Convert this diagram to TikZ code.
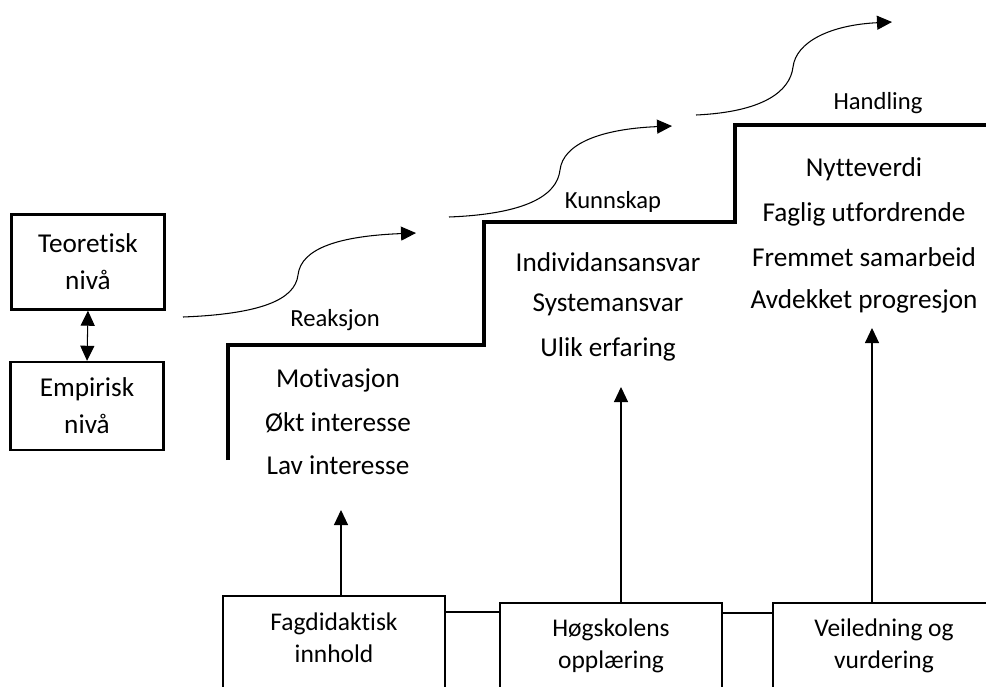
\documentclass[tikz,border=0pt]{standalone}
\usepackage{fontspec}
\setmainfont{Carlito}[Ligatures=NoCommon]
\usepackage{tikz}
\usetikzlibrary{arrows.meta}

\begin{document}
\begin{tikzpicture}[x=0.02cm, y=-0.02cm,
		levelbox/.style={draw, line width=1.4pt, minimum width=3.06cm, align=center, font=\fontsize{15.5}{21}\selectfont},
		lowbox/.style={draw, line width=1.2pt, anchor=north, minimum width=4.44cm, minimum height=2.8cm},
		boxtext/.style={align=center, font=\fontsize{14.5}{18}\selectfont},
		lbl/.style={font=\fontsize{14}{16}\selectfont},
		item/.style={font=\fontsize{15.5}{18}\selectfont},
		stairs/.style={line width=2.3pt},
		flow/.style={line width=0.6pt, -{Triangle[length=0.3cm, width=0.28cm]}},
		rise/.style={line width=0.6pt, -{Triangle[length=0.3cm, width=0.28cm]}},
		joint/.style={line width=1.2pt}]
		\useasboundingbox (0,0) rectangle (986,686);
		\clip (0,0) rectangle (986,686);
		\node[levelbox, minimum height=1.9cm] (teo) at (88,262) {Teoretisk\\nivå};
		\node[levelbox, minimum height=1.76cm] (emp) at (87,406) {Empirisk\\nivå};
		\draw[line width=0.6pt, {Triangle[length=0.3cm, width=0.28cm]}-{Triangle[length=0.3cm, width=0.28cm]}] (teo.south) -- (emp.north);
		\draw[stairs] (228,460) -- (228,345) -- (484,345) -- (484,222) -- (735,222) -- (735,125) -- (995,125);
		\draw[flow] (183,317) .. controls (260,314) and (295,300) .. (298,275) .. controls (301,248) and (340,236) .. (416,233);
		\draw[flow] (449,217) .. controls (525,214) and (557,196) .. (560,170) .. controls (563,144) and (600,129) .. (672,126);
		\draw[flow] (696,115) .. controls (762,112) and (790,92) .. (793,67) .. controls (796,42) and (830,25) .. (892,22);
		\node[lbl] (reak) at (335,320) {Reaksjon};
		\node[lbl] (kunn) at (613,202) {Kunnskap};
		\node[lbl] (hand) at (878,103) {Handling};
		\node[item] (moti) at (338,380) {Motivasjon};
		\node[item] (okt) at (338,423) {Økt interesse};
		\node[item] (lav) at (338,465) {Lav interesse};
		\node[item] (indi) at (608,262) {Individansansvar};
		\node[item] (syst) at (608,305) {Systemansvar};
		\node[item] (ulik) at (608,349) {Ulik erfaring};
		\node[item] (nytt) at (864,169) {Nytteverdi};
		\node[item] (fagl) at (864,214) {Faglig utfordrende};
		\node[item] (frem) at (864,257) {Fremmet samarbeid};
		\node[item] (avde) at (864,301) {Avdekket progresjon};
		\node[lowbox] (fag) at (334,595) {};
		\node[lowbox] (hog) at (611,602) {};
		\node[lowbox] (vei) at (884,602) {};
		\node[boxtext] (fagtxt) at (334,638) {Fagdidaktisk\\innhold};
		\node[boxtext] (hogtxt) at (611,646) {Høgskolens\\opplæring};
		\node[boxtext] (veitxt) at (884,646) {Veiledning og\\vurdering};
		\path (fag.north east) ++(0,17) coordinate (j1);
		\path (hog.north east) ++(0,11) coordinate (j2);
		\draw[joint] (j1) -- (j1 -| hog.west);
		\draw[joint] (j2) -- (j2 -| vei.west);
		\coordinate (tip1) at (341,510);
		\coordinate (tip2) at (621,387);
		\coordinate (tip3) at (872,328);
		\draw[rise] (fag.north -| tip1) -- (tip1);
		\draw[rise] (hog.north -| tip2) -- (tip2);
		\draw[rise] (vei.north -| tip3) -- (tip3);
\end{tikzpicture}
\end{document}
